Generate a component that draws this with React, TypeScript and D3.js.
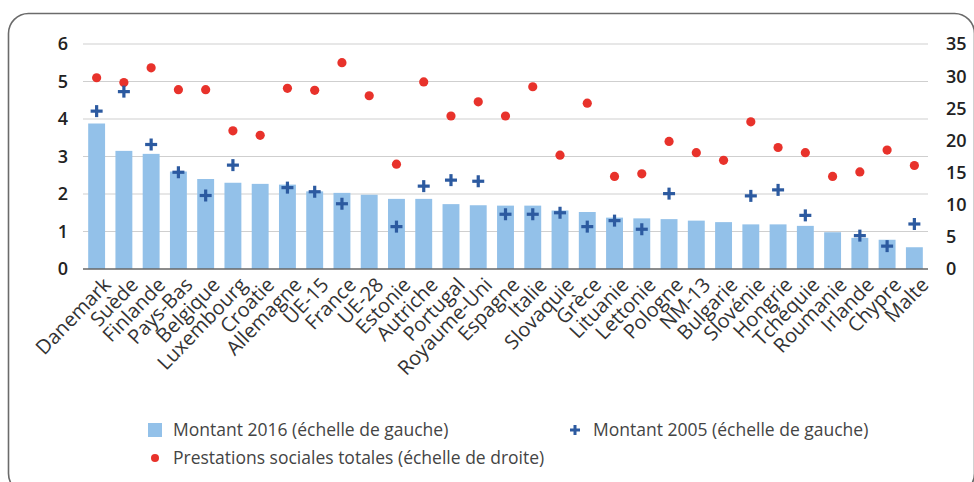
import React from "react";
import * as d3 from "d3";

const categories = ["Danemark","Suède","Finlande","Pays-Bas","Belgique","Luxembourg","Croatie","Allemagne","UE-15","France","UE-28","Estonie","Autriche","Portugal","Royaume-Uni","Espagne","Italie","Slovaquie","Grèce","Lituanie","Lettonie","Pologne","NM-13","Bulgarie","Slovénie","Hongrie","Tchéquie","Roumanie","Irlande","Chypre","Malte"];
const montant2016 = [3.88,3.15,3.07,2.6,2.4,2.3,2.27,2.25,2.07,2.03,1.98,1.87,1.87,1.73,1.7,1.69,1.69,1.56,1.52,1.37,1.35,1.33,1.29,1.25,1.19,1.19,1.15,0.98,0.83,0.78,0.58];
const montant2005: (number | null)[] = [4.21,4.73,3.32,2.58,1.96,2.77,null,2.17,2.06,1.74,null,1.13,2.21,2.37,2.34,1.46,1.46,1.5,1.13,1.29,1.06,2.01,null,null,1.95,2.11,1.43,null,0.89,0.61,1.2];
const prestations = [29.75,29.0,31.3,27.9,27.9,21.5,20.8,28.1,27.8,32.1,26.95,16.3,29.1,23.8,26.0,23.8,28.35,17.7,25.8,14.4,14.8,19.85,18.1,16.9,22.9,18.9,18.1,14.4,15.1,18.5,16.1];
const leftTicks = [0,1,2,3,4,5,6];
const rightTicks = [0,5,10,15,20,25,30,35];
const legendLabels = ["Montant 2016 (échelle de gauche)","Montant 2005 (échelle de gauche)","Prestations sociales totales (échelle de droite)"];

const W = 974, H = 482;
const plotLeft = 83, plotRight = 928, plotTop = 44, plotBottom = 269;
const BAR = "#93c1e9", CROSS = "#2c5aa0", DOT = "#e8322b";
const FONT = "'Open Sans', sans-serif";

function Cross({ cx, cy, s = 6, t = 3.2 }: { cx: number; cy: number; s?: number; t?: number }) {
  return (
    <g fill={CROSS}>
      <rect x={cx - s} y={cy - t / 2} width={2 * s} height={t} />
      <rect x={cx - t / 2} y={cy - s} width={t} height={2 * s} />
    </g>
  );
}

export default function App() {
  const x = d3.scaleBand<string>().domain(categories).range([plotLeft, plotRight]).paddingInner(0.38).paddingOuter(0.19);
  const yL = d3.scaleLinear().domain([0, 6]).range([plotBottom, plotTop]);
  const yR = d3.scaleLinear().domain([0, 35]).range([plotBottom, plotTop]);
  const bw = x.bandwidth();
  const cx = (c: string) => (x(c) as number) + bw / 2;

  return (
    <svg width={W} height={H} style={{ position: "absolute", left: 0, top: 0, background: "#fff" }} fontFamily={FONT}>
      <rect x={8.5} y={13.5} width={966} height={480} rx={20} ry={20} fill="none" stroke="#6b6b6b" strokeWidth={1.6} />
      {leftTicks.map((t) => (
        <g key={"g" + t}>
          {t > 0 && <line x1={plotLeft} x2={plotRight} y1={yL(t)} y2={yL(t)} stroke="#cfcfcf" strokeWidth={1.2} />}
          <text x={68} y={yL(t)} dy="0.36em" textAnchor="end" fontSize={18} fontWeight={600} fill="#222">{t}</text>
        </g>
      ))}
      {rightTicks.map((t) => (
        <text key={"r" + t} x={946} y={yR(t)} dy="0.36em" textAnchor="start" fontSize={18} fontWeight={600} fill="#222">{t}</text>
      ))}
      {categories.map((c, i) => (
        <rect key={"b" + c} x={x(c)} y={yL(montant2016[i])} width={bw} height={plotBottom - yL(montant2016[i])} fill={BAR} />
      ))}
      <line x1={plotLeft} x2={plotRight} y1={plotBottom} y2={plotBottom} stroke="#666" strokeWidth={1.6} />
      {categories.map((c, i) => (
        <circle key={"d" + c} cx={cx(c)} cy={yR(prestations[i])} r={4.6} fill={DOT} />
      ))}
      {categories.map((c, i) =>
        montant2005[i] == null ? null : <Cross key={"c" + c} cx={cx(c)} cy={yL(montant2005[i] as number)} />
      )}
      {categories.map((c) => (
        <text key={"l" + c} transform={`translate(${cx(c) + 5},${plotBottom + 7}) rotate(-46)`} textAnchor="end" dy="0.72em" fontSize={20} fill="#333">{c}</text>
      ))}
      <rect x={148} y={423} width={14} height={14} fill={BAR} />
      <text x={173} y={430} dy="0.36em" fontSize={17.5} fill="#444">{legendLabels[0]}</text>
      <Cross cx={575} cy={430} s={5} t={3} />
      <text x={593} y={430} dy="0.36em" fontSize={17.5} fill="#444">{legendLabels[1]}</text>
      <circle cx={155} cy={458} r={4} fill={DOT} />
      <text x={173} y={458} dy="0.36em" fontSize={17.5} fill="#444">{legendLabels[2]}</text>
    </svg>
  );
}
